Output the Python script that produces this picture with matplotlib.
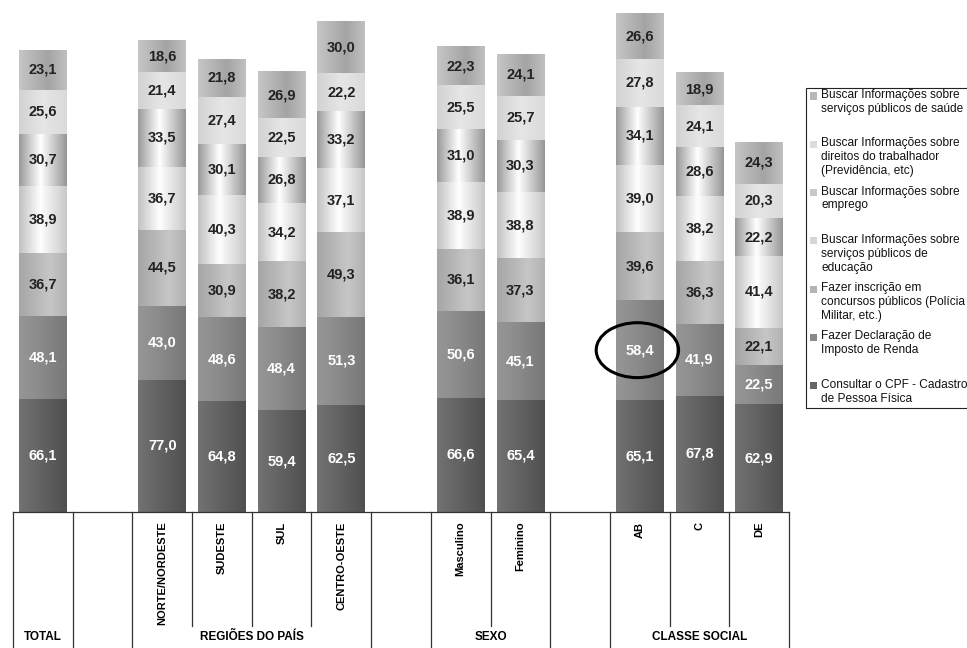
import numpy as np
import matplotlib
matplotlib.use("Agg")
import matplotlib.pyplot as plt
from matplotlib.patches import Rectangle, Ellipse

plt.rcParams['font.family'] = ['Liberation Sans', 'DejaVu Sans']

# ---------------- data ----------------
group_names = ["TOTAL", "REGIÕES DO PAÍS", "SEXO", "CLASSE SOCIAL"]
group_members = [
    ["TOTAL"],
    ["NORTE/NORDESTE", "SUDESTE", "SUL", "CENTRO-OESTE"],
    ["Masculino", "Feminino"],
    ["AB", "C", "DE"],
]
# series, stacked from bottom to top; order of columns:
# TOTAL, N/NE, SE, SUL, CO, Masc, Fem, AB, C, DE
cpf       = [66.1, 77.0, 64.8, 59.4, 62.5, 66.6, 65.4, 65.1, 67.8, 62.9]
ir        = [48.1, 43.0, 48.6, 48.4, 51.3, 50.6, 45.1, 58.4, 41.9, 22.5]
concursos = [36.7, 44.5, 30.9, 38.2, 49.3, 36.1, 37.3, 39.6, 36.3, 22.1]
educacao  = [38.9, 36.7, 40.3, 34.2, 37.1, 38.9, 38.8, 39.0, 38.2, 41.4]
emprego   = [30.7, 33.5, 30.1, 26.8, 33.2, 31.0, 30.3, 34.1, 28.6, 22.2]
direitos  = [25.6, 21.4, 27.4, 22.5, 22.2, 25.5, 25.7, 27.8, 24.1, 20.3]
saude     = [23.1, 18.6, 21.8, 26.9, 30.0, 22.3, 24.1, 26.6, 18.9, 24.3]

series_values = [cpf, ir, concursos, educacao, emprego, direitos, saude]
series_labels = [
    "Consultar o CPF - Cadastro\nde Pessoa Física",
    "Fazer Declaração de\nImposto de Renda",
    "Fazer inscrição em\nconcursos públicos (Polícia\nMilitar, etc.)",
    "Buscar Informações sobre\nserviços públicos de\neducação",
    "Buscar Informações sobre\nemprego",
    "Buscar Informações sobre\ndireitos do trabalhador\n(Previdência, etc)",
    "Buscar Informações sobre\nserviços públicos de saúde",
]
highlight_category = "AB"

# ---------------- styles ----------------
# horizontal gradient stops (position, gray level 0-255)
grad_stops = [
    [(0, 0x72), (0.35, 0x66), (1, 0x50)],
    [(0, 0x96), (0.4, 0x8c), (1, 0x78)],
    [(0, 0xa6), (0.65, 0xc6), (1, 0xb2)],
    [(0, 0xc2), (0.45, 0xfe), (1, 0xc8)],
    [(0, 0x9a), (0.45, 0xff), (1, 0x96)],
    [(0, 0xd2), (0.5, 0xe6), (1, 0xda)],
    [(0, 0xc6), (0.6, 0xa4), (1, 0xc0)],
]
legend_colors = ["#666666", "#8a8a8a", "#b4b4b4", "#d6d6d6", "#c8c8c8", "#dcdcdc", "#b8b8b8"]
label_colors = ["white", "white", "#222222", "#222222", "#222222", "#222222", "#222222"]

W, H = 967, 648
fig = plt.figure(figsize=(W / 100, H / 100), dpi=100)
ax = fig.add_axes([13 / W, (H - 512) / H, (789 - 13) / W, 512 / H])

# positions (blank slot between groups)
positions, tick_labels, group_spans = [], [], []
pos = 0
for gname, members in zip(group_names, group_members):
    start = pos
    for m in members:
        positions.append(pos)
        tick_labels.append("" if len(members) == 1 else m)
        pos += 1
    group_spans.append((start, pos - 1))
    pos += 1
last_slot = group_spans[-1][1]
positions = np.array(positions, dtype=float)

bottoms = np.zeros(len(positions))
bar_w = 0.8
for i, vals in enumerate(series_values):
    vals = np.array(vals)
    bars = ax.bar(positions, vals, bar_w, bottom=bottoms, color=legend_colors[i],
                  edgecolor="none", zorder=2)
    xs = np.linspace(0, 1, 128)
    st = grad_stops[i]
    g = np.interp(xs, [p for p, _ in st], [v for _, v in st]) / 255.0
    img = np.dstack([g, g, g]).reshape(1, -1, 3)
    for p in bars:
        x0, y0 = p.get_x(), p.get_y()
        ax.imshow(img, extent=[x0, x0 + p.get_width(), y0, y0 + p.get_height()],
                  aspect="auto", interpolation="bilinear", zorder=2.5)
    ax.bar_label(bars, labels=[f"{v:.1f}".replace(".", ",") for v in vals],
                 label_type="center", color=label_colors[i], fontsize=10.5,
                 fontweight="bold", zorder=5)
    bottoms = bottoms + vals

ax.set_xlim(-0.5, last_slot + 0.5)
ax.set_ylim(0, 512 / 1.7162)
for s in ["top", "left", "right"]:
    ax.spines[s].set_visible(False)
ax.spines["bottom"].set_color("#333333")
ax.spines["bottom"].set_linewidth(0.9)
ax.set_yticks([])
ax.set_xticks(positions)
ax.set_xticklabels(tick_labels, rotation=90, fontsize=8, fontweight="bold",
                   va="top", ha="center")
ax.tick_params(axis="x", length=0, pad=7)

# table lines
tr = ax.get_xaxis_transform()
y_full = -(H - 512) / 512
y_inner = -(626 - 512) / 512
for gi, (a, b) in enumerate(group_spans):
    for xb in (a - 0.5, b + 0.5):
        ax.plot([xb, xb], [0, y_full], transform=tr, color="#333333", lw=0.9, clip_on=False)
    for k in range(a, b):
        ax.plot([k + 0.5, k + 0.5], [0, y_inner], transform=tr, color="#333333", lw=0.9, clip_on=False)
    ax.text((a + b) / 2, -(637 - 512) / 512, group_names[gi], transform=tr,
            ha="center", va="center", fontsize=8.5, fontweight="bold")

# highlight ellipse
hi = [m for ms in group_members for m in ms].index(highlight_category)
ecx = positions[hi] - 0.04
ecy = cpf[hi] + ir[hi] / 2
ax.add_patch(Ellipse((ecx, ecy), 1.38, 32, fill=False, edgecolor="black",
                     lw=2.2, zorder=6, clip_on=False))

# legend (manual, Excel-like)
def fx(x): return x / W
def fy(y): return 1 - y / H

fig.add_artist(Rectangle((fx(806), fy(408)), (975 - 806) / W, (408 - 88) / H,
                         transform=fig.transFigure, fill=False, edgecolor="#222222",
                         lw=0.8, clip_on=False))
order = list(range(len(series_labels)))[::-1]
for k, i in enumerate(order):
    yc = 96 + k * 48.3
    fig.add_artist(Rectangle((fx(810), fy(yc + 3.5)), 7 / W, 7 / H,
                             transform=fig.transFigure, facecolor=legend_colors[i],
                             edgecolor="none"))
    fig.text(fx(821), fy(yc - 7), series_labels[i], fontsize=8.6, va="top",
             ha="left", linespacing=1.2, color="#111111")

fig.savefig("out.png", dpi=100)
